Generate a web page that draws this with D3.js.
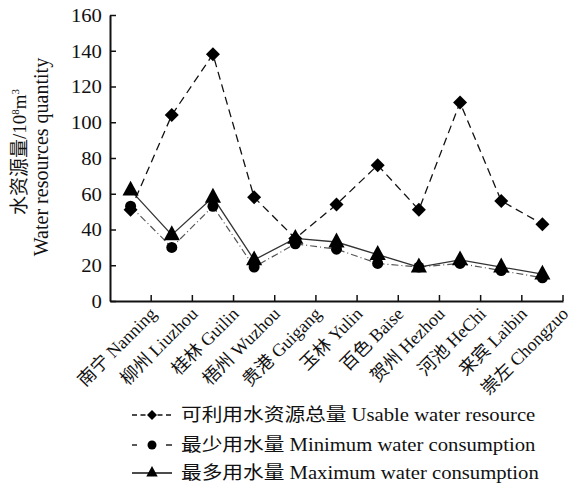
<!DOCTYPE html>
<html>
<head>
<meta charset="utf-8">
<script src="https://cdn.jsdelivr.net/npm/d3@7"></script>
<style>
  body { margin: 0; background: #fff; }
</style>
</head>
<body>
<div id="chart"></div>
<script>
// cities along the x axis
var cities = ["南宁 Nanning", "柳州 Liuzhou", "桂林 Guilin", "梧州 Wuzhou", "贵港 Guigang",
  "玉林 Yulin", "百色 Baise", "贺州 Hezhou", "河池 HeChi", "来宾 Laibin", "崇左 Chongzuo"];
// values, 10^8 m^3
var usable = [51, 104, 138, 58, 35, 54, 76, 51, 111, 56, 43];
var minUse = [53, 30, 53, 19, 32, 29, 21, 19, 21, 17, 13];
var maxUse = [62, 37, 58, 23, 35, 33, 26, 19, 23, 19, 15];
var yTicks = [0, 20, 40, 60, 80, 100, 120, 140, 160];
var legendNames = ["可利用水资源总量 Usable water resource",
  "最少用水量 Minimum water consumption",
  "最多用水量 Maximum water consumption"];

var FONT = "'Liberation Serif', 'Times New Roman', 'DejaVu Serif', 'Noto Sans CJK SC', serif";

var width = 571, height = 485;
var svg = d3.select("#chart").append("svg")
  .attr("width", width).attr("height", height)
  .style("font-family", FONT);

var x = d3.scaleBand().domain(cities).range([110, 563]).padding(0);
var y = d3.scaleLinear().domain([0, 160]).range([301, 15]);

// y axis, ticks inward
var yAxis = svg.append("g")
  .attr("transform", "translate(110,0)")
  .call(d3.axisLeft(y).tickValues(yTicks).tickSizeInner(-6).tickSizeOuter(0).tickPadding(7));
yAxis.attr("font-family", FONT);
yAxis.select(".domain").attr("stroke", "#111").attr("stroke-width", 2);
yAxis.selectAll(".tick line").attr("stroke", "#111").attr("stroke-width", 1.5);
yAxis.selectAll(".tick text")
  .attr("font-size", 18).attr("fill", "#111")
  .attr("transform", "scale(1.15,1)")
  .attr("dy", "0.36em");

// x axis, ticks at band edges pointing up
var xAxis = svg.append("g")
  .attr("transform", "translate(0,301)")
  .call(d3.axisBottom(x).tickSizeInner(-6).tickSizeOuter(0).tickFormat(""));
xAxis.select(".domain").attr("stroke", "#111").attr("stroke-width", 2);
xAxis.selectAll(".tick")
  .attr("transform", function(d) { return "translate(" + (x(d) + x.bandwidth()) + ",0)"; });
xAxis.selectAll(".tick line").attr("stroke", "#111").attr("stroke-width", 1.5);

// rotated city labels
svg.append("g").selectAll("text")
  .data(cities)
  .join("text")
  .attr("transform", function(d) {
    return "translate(" + (x(d) + x.bandwidth() / 2 + 27) + ",315) rotate(-45)";
  })
  .attr("text-anchor", "end")
  .attr("font-size", 18)
  .attr("fill", "#111")
  .text(function(d) { return d; });

// y axis title
var yt = svg.append("text")
  .attr("transform", "translate(26,152) rotate(-90)")
  .attr("text-anchor", "middle")
  .attr("font-size", 19)
  .attr("fill", "#111");
yt.append("tspan").text("水资源量/10");
yt.append("tspan").attr("font-size", 11).attr("dy", -7).text("8");
yt.append("tspan").attr("dy", 7).text("m");
yt.append("tspan").attr("font-size", 11).attr("dy", -7).text("3");
svg.append("text")
  .attr("transform", "translate(48,157) rotate(-90)")
  .attr("text-anchor", "middle")
  .attr("font-size", 20)
  .attr("fill", "#111")
  .text("Water resources quantity");

var xc = function(i) { return x(cities[i]) + x.bandwidth() / 2; };
var line = d3.line().x(function(d, i) { return xc(i); }).y(function(d) { return y(d); });

var diamond = function(r) { return "M0," + (-r) + "L" + r + ",0L0," + r + "L" + (-r) + ",0Z"; };
var triangle = function(r) { return "M0," + (-r) + "L" + (r * 0.95) + "," + (r * 0.75) + "L" + (-r * 0.95) + "," + (r * 0.75) + "Z"; };

// lines
svg.append("path").datum(minUse).attr("d", line)
  .attr("fill", "none").attr("stroke", "#555").attr("stroke-width", 1.2)
  .attr("stroke-dasharray", "7,3,1,3");
svg.append("path").datum(maxUse).attr("d", line)
  .attr("fill", "none").attr("stroke", "#333").attr("stroke-width", 1.3);
svg.append("path").datum(usable).attr("d", line)
  .attr("fill", "none").attr("stroke", "#111").attr("stroke-width", 1.3)
  .attr("stroke-dasharray", "8,5");

// markers
svg.append("g").selectAll("circle").data(minUse).join("circle")
  .attr("cx", function(d, i) { return xc(i); }).attr("cy", function(d) { return y(d); })
  .attr("r", 5.5).attr("fill", "#000");
svg.append("g").selectAll("path").data(usable).join("path")
  .attr("transform", function(d, i) { return "translate(" + xc(i) + "," + y(d) + ")"; })
  .attr("d", diamond(7)).attr("fill", "#000");
svg.append("g").selectAll("path").data(maxUse).join("path")
  .attr("transform", function(d, i) { return "translate(" + xc(i) + "," + (y(d) - 1) + ")"; })
  .attr("d", triangle(8.5)).attr("fill", "#000");

// legend
var legendY = [415, 445, 473];
var lg = svg.append("g");
// usable
lg.append("line").attr("x1", 132).attr("x2", 172).attr("y1", legendY[0]).attr("y2", legendY[0])
  .attr("stroke", "#111").attr("stroke-width", 1.3).attr("stroke-dasharray", "5,3.5");
lg.append("path").attr("transform", "translate(152," + legendY[0] + ")").attr("d", diamond(5)).attr("fill", "#000");
// minimum
lg.append("line").attr("x1", 132).attr("x2", 172).attr("y1", legendY[1]).attr("y2", legendY[1])
  .attr("stroke", "#222").attr("stroke-width", 1.3).attr("stroke-dasharray", "5,29,6");
lg.append("circle").attr("cx", 152).attr("cy", legendY[1]).attr("r", 4.5).attr("fill", "#000");
// maximum
lg.append("line").attr("x1", 132).attr("x2", 172).attr("y1", legendY[2]).attr("y2", legendY[2])
  .attr("stroke", "#111").attr("stroke-width", 1.3);
lg.append("path").attr("transform", "translate(152," + (legendY[2] - 1) + ")").attr("d", triangle(6)).attr("fill", "#000");

lg.selectAll("text.lab").data(legendNames).join("text")
  .attr("class", "lab")
  .attr("transform", function(d, i) { return "translate(181," + (legendY[i] + 6) + ") scale(1.15,1)"; })
  .attr("font-size", 18)
  .attr("fill", "#111")
  .text(function(d) { return d; });
</script>
</body>
</html>
